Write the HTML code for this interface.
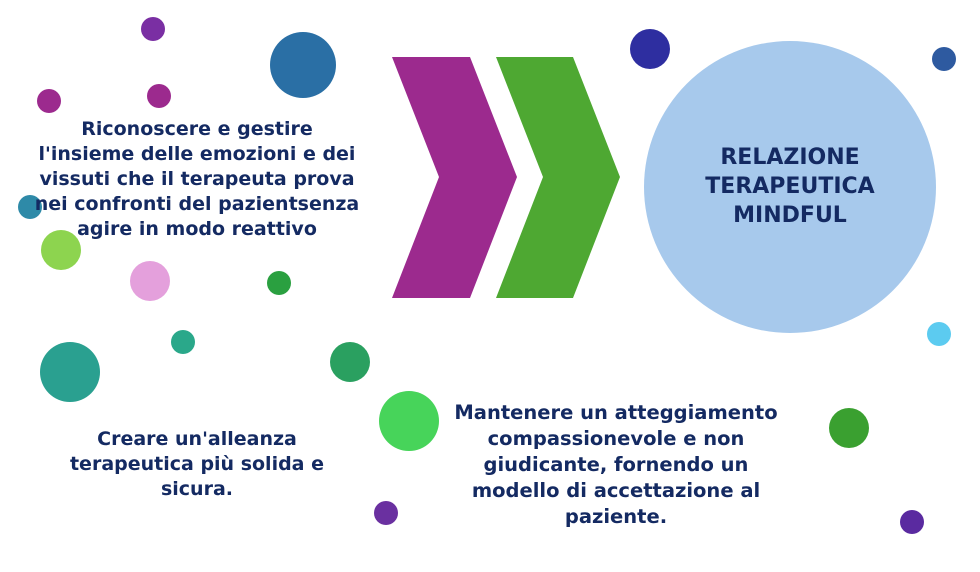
<!DOCTYPE html>
<html><head><meta charset="utf-8"><style>
body{margin:0;width:980px;height:572px;background:#fff;overflow:hidden;position:relative;font-family:"DejaVu Sans","Liberation Sans",sans-serif;font-weight:bold;color:#142a62}
.t{position:absolute;text-align:center;font-size:19px;line-height:25px;white-space:nowrap;transform:translateX(-50%)}
</style></head><body>
<svg width="980" height="572" style="position:absolute;left:0;top:0">
<circle cx="153" cy="29" r="12" fill="#7a2fa3"/>
<circle cx="303" cy="65" r="33" fill="#2a6fa5"/>
<circle cx="49" cy="101" r="12" fill="#9c2a8e"/>
<circle cx="159" cy="96" r="12" fill="#9c2a8e"/>
<circle cx="650" cy="49" r="20" fill="#2e2ea0"/>
<circle cx="944" cy="59" r="12" fill="#2e5aa0"/>
<circle cx="790" cy="187" r="146" fill="#a7c9ec"/>
<circle cx="30" cy="207" r="12" fill="#2e8aa8"/>
<circle cx="61" cy="250" r="20" fill="#8dd44f"/>
<circle cx="150" cy="281" r="20" fill="#e4a0dc"/>
<circle cx="279" cy="283" r="12" fill="#2aa040"/>
<circle cx="183" cy="342" r="12" fill="#2aa88a"/>
<circle cx="70" cy="372" r="30" fill="#2aa090"/>
<circle cx="350" cy="362" r="20" fill="#2aa060"/>
<circle cx="939" cy="334" r="12" fill="#5ccbf0"/>
<circle cx="409" cy="421" r="30" fill="#47d45a"/>
<circle cx="849" cy="428" r="20" fill="#3aa030"/>
<circle cx="386" cy="513" r="12" fill="#6a30a0"/>
<circle cx="912" cy="522" r="12" fill="#5a2aa0"/>
<polygon points="392,57 470,57 517,177 470,298 392,298 439,177" fill="#9c2a8e"/>
<polygon points="496,57 573,57 620,177 573,298 496,298 543,177" fill="#4ea832"/>
</svg>
<div class="t" style="left:197px;top:117px">Riconoscere e gestire<br>l'insieme delle emozioni e dei<br>vissuti che il terapeuta prova<br>nei confronti del pazientsenza<br>agire in modo reattivo</div>
<div class="t" style="left:790px;top:143px;font-size:22px;line-height:29px">RELAZIONE<br>TERAPEUTICA<br>MINDFUL</div>
<div class="t" style="left:197px;top:427px">Creare un'alleanza<br>terapeutica più solida e<br>sicura.</div>
<div class="t" style="left:616px;top:400px;line-height:26px;font-size:19.5px">Mantenere un atteggiamento<br>compassionevole e non<br>giudicante, fornendo un<br>modello di accettazione al<br>paziente.</div>
</body></html>
